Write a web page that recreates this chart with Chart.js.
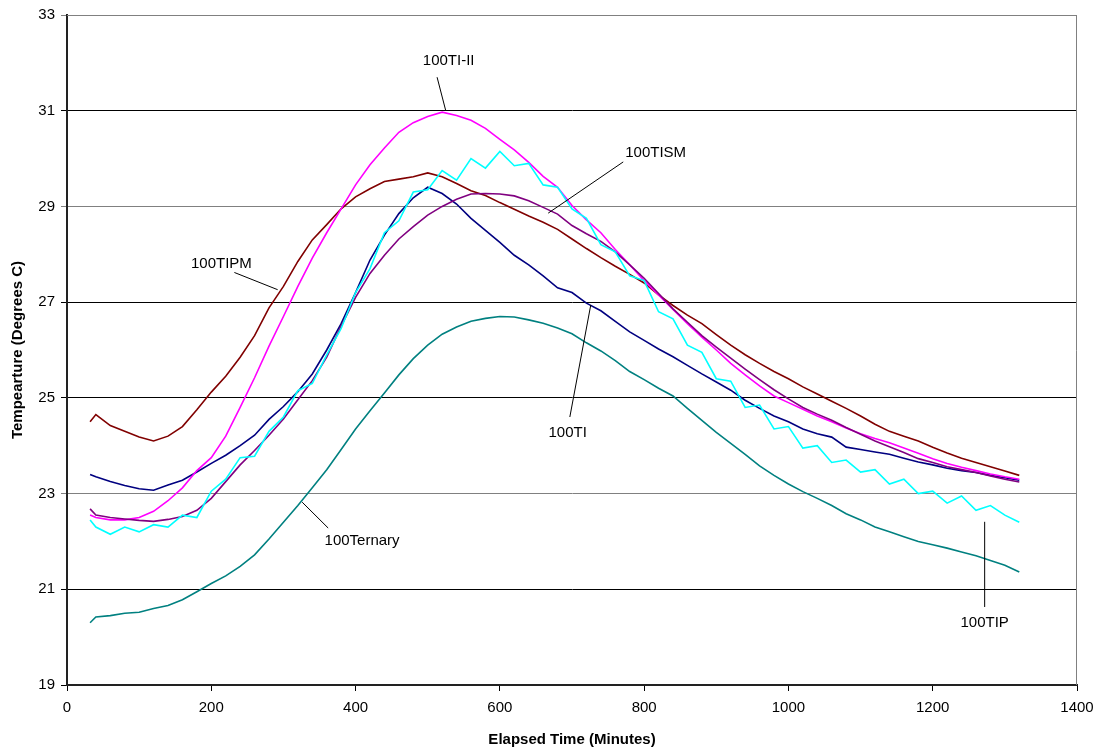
<!DOCTYPE html>
<html>
<head>
<meta charset="utf-8">
<script src="https://cdn.jsdelivr.net/npm/chart.js@4"></script>
<style>
  body { margin: 0; background: #fff; }
  #wrap { width: 1104px; height: 752px; position: relative; }
</style>
</head>
<body>
<div id="wrap"><canvas id="myChart"></canvas></div>
<script>
// elapsed time (minutes) for each reading
const minutes = [32, 40, 60, 80, 100, 120, 140, 160, 180, 200, 220, 240, 260, 280, 300, 320, 340, 360, 380, 400,
  420, 440, 460, 480, 500, 520, 540, 560, 580, 600, 620, 640, 660, 680, 700, 720, 740, 760, 780, 800,
  820, 840, 860, 880, 900, 920, 940, 960, 980, 1000, 1020, 1040, 1060, 1080, 1100, 1120, 1140, 1160, 1180, 1200,
  1220, 1240, 1260, 1280, 1300, 1320];

const tipm = [24.5, 24.65, 24.42, 24.3, 24.18, 24.1, 24.2, 24.4, 24.75, 25.12, 25.45, 25.85, 26.3, 26.88, 27.33, 27.85, 28.3, 28.62, 28.95, 29.2,
  29.37, 29.52, 29.57, 29.62, 29.7, 29.62, 29.48, 29.33, 29.23, 29.08, 28.94, 28.8, 28.67, 28.52, 28.32, 28.12, 27.93, 27.75, 27.58, 27.4,
  27.15, 26.93, 26.73, 26.55, 26.32, 26.1, 25.9, 25.72, 25.55, 25.4, 25.23, 25.08, 24.93, 24.78, 24.62, 24.45, 24.3, 24.2, 24.1, 23.97,
  23.85, 23.74, 23.65, 23.56, 23.47, 23.38];

const tiII = [22.55, 22.5, 22.45, 22.45, 22.5, 22.63, 22.85, 23.12, 23.48, 23.75, 24.2, 24.8, 25.42, 26.08, 26.7, 27.33, 27.92, 28.45, 28.95, 29.45,
  29.87, 30.22, 30.55, 30.75, 30.88, 30.97, 30.9, 30.8, 30.63, 30.4, 30.18, 29.92, 29.63, 29.4, 29.02, 28.72, 28.45, 28.1, 27.78, 27.45,
  27.15, 26.85, 26.55, 26.27, 26.0, 25.72, 25.48, 25.25, 25.04, 24.9, 24.76, 24.62, 24.5, 24.37, 24.25, 24.15, 24.06, 23.95, 23.84, 23.73,
  23.63, 23.55, 23.48, 23.41, 23.35, 23.3];

const tism = [22.68, 22.55, 22.5, 22.47, 22.44, 22.42, 22.46, 22.52, 22.65, 22.9, 23.25, 23.6, 23.9, 24.22, 24.56, 24.96, 25.36, 25.85, 26.5, 27.1,
  27.6, 27.98, 28.32, 28.58, 28.82, 29.0, 29.15, 29.26, 29.27, 29.26, 29.22, 29.12, 28.98, 28.84, 28.6, 28.43, 28.27, 28.05, 27.78, 27.5,
  27.18, 26.86, 26.58, 26.3, 26.06, 25.83, 25.6, 25.38, 25.17, 24.98, 24.8, 24.66, 24.53, 24.38, 24.24, 24.1, 23.98, 23.86, 23.73, 23.65,
  23.56, 23.5, 23.44, 23.37, 23.3, 23.24];

const ti = [23.4, 23.35, 23.25, 23.17, 23.1, 23.07, 23.18, 23.28, 23.45, 23.63, 23.8, 24.0, 24.22, 24.55, 24.82, 25.13, 25.5, 26.0, 26.55, 27.2,
  27.88, 28.4, 28.85, 29.18, 29.4, 29.27, 29.05, 28.75, 28.5, 28.25, 27.98, 27.78, 27.55, 27.3, 27.2, 26.98, 26.82, 26.6, 26.38, 26.2,
  26.02, 25.86, 25.68, 25.5, 25.33, 25.16, 24.95, 24.78, 24.62, 24.5, 24.35, 24.25, 24.18, 23.97, 23.92, 23.87, 23.82, 23.74, 23.66, 23.6,
  23.53, 23.48, 23.44, 23.38, 23.33, 23.28];

const tip = [22.45, 22.3, 22.15, 22.3, 22.2, 22.35, 22.3, 22.55, 22.5, 23.05, 23.3, 23.75, 23.78, 24.3, 24.6, 25.15, 25.3, 25.9, 26.45, 27.2,
  27.7, 28.45, 28.7, 29.3, 29.35, 29.75, 29.55, 30.0, 29.8, 30.15, 29.85, 29.9, 29.45, 29.4, 28.95, 28.75, 28.2, 28.05, 27.55, 27.45,
  26.8, 26.65, 26.1, 25.95, 25.4, 25.35, 24.8, 24.85, 24.35, 24.4, 23.95, 24.0, 23.65, 23.7, 23.45, 23.5, 23.2, 23.3, 23.0, 23.05,
  22.8, 22.95, 22.65, 22.75, 22.55, 22.4];

const ternary = [20.3, 20.42, 20.45, 20.5, 20.52, 20.6, 20.66, 20.78, 20.95, 21.12, 21.28, 21.48, 21.72, 22.05, 22.4, 22.75, 23.12, 23.5, 23.92, 24.35,
  24.73, 25.1, 25.48, 25.82, 26.1, 26.33, 26.48, 26.6, 26.66, 26.7, 26.69, 26.63, 26.56, 26.46, 26.34, 26.15, 25.98, 25.78, 25.55, 25.38,
  25.2, 25.04, 24.78, 24.53, 24.28, 24.05, 23.82, 23.58, 23.38, 23.2, 23.04, 22.9, 22.75, 22.58, 22.45, 22.3, 22.2, 22.1, 22.0, 21.93,
  21.86, 21.78, 21.7, 21.6, 21.5, 21.36];

const xTicks = [0, 200, 400, 600, 800, 1000, 1200, 1400];
const yTicks = [19, 21, 23, 25, 27, 29, 31, 33];

// callout labels: text, label centre, leader line from/to (data units)
const callouts = [
  { text: "100TI-II",   at: [529, 32.04],  from: [513, 31.7],  to: [525, 31.0] },
  { text: "100TISM",    at: [816, 30.12],  from: [771, 29.93], to: [667, 28.86] },
  { text: "100TIPM",    at: [214, 27.8],   from: [232, 27.62], to: [292, 27.26] },
  { text: "100TI",      at: [694, 24.27],  from: [697, 24.6],  to: [726, 26.94] },
  { text: "100Ternary", at: [409, 22.01],  from: [362, 22.28], to: [326, 22.82] },
  { text: "100TIP",     at: [1272, 20.3],  from: [1272, 20.63], to: [1272, 22.41] }
];

function pts(vals) {
  return minutes.map((m, i) => ({ x: m, y: vals[i] }));
}

const calloutPlugin = {
  id: 'callouts',
  beforeDatasetsDraw(chart) {
    const { ctx, chartArea: a } = chart;
    ctx.save();
    ctx.strokeStyle = '#808080';
    ctx.lineWidth = 1;
    ctx.beginPath();
    ctx.moveTo(a.left, a.top + 0.5);
    ctx.lineTo(a.right - 0.5, a.top + 0.5);
    ctx.lineTo(a.right - 0.5, a.bottom);
    ctx.stroke();
    ctx.restore();
  },
  afterDatasetsDraw(chart) {
    const { ctx } = chart;
    const xs = chart.scales.x, ys = chart.scales.y;
    ctx.save();
    ctx.strokeStyle = '#000';
    ctx.lineWidth = 1;
    ctx.fillStyle = '#000';
    ctx.font = '15px "Liberation Sans", Arial, sans-serif';
    ctx.textAlign = 'center';
    ctx.textBaseline = 'middle';
    callouts.forEach(c => {
      ctx.beginPath();
      ctx.moveTo(xs.getPixelForValue(c.from[0]), ys.getPixelForValue(c.from[1]));
      ctx.lineTo(xs.getPixelForValue(c.to[0]), ys.getPixelForValue(c.to[1]));
      ctx.stroke();
      ctx.fillText(c.text, xs.getPixelForValue(c.at[0]), ys.getPixelForValue(c.at[1]));
    });
    ctx.restore();
  }
};

const tickFont = { family: '"Liberation Sans", Arial, sans-serif', size: 15 };
const titleFont = { family: '"Liberation Sans", Arial, sans-serif', size: 15, weight: 'bold' };

new Chart(document.getElementById('myChart'), {
  type: 'line',
  data: {
    datasets: [
      { label: '100Ternary', data: pts(ternary), borderColor: '#008080' },
      { label: '100TIP', data: pts(tip), borderColor: '#00FFFF' },
      { label: '100TISM', data: pts(tism), borderColor: '#800080' },
      { label: '100TI-II', data: pts(tiII), borderColor: '#FF00FF' },
      { label: '100TIPM', data: pts(tipm), borderColor: '#800000' },
      { label: '100TI', data: pts(ti), borderColor: '#000080' }
    ]
  },
  options: {
    responsive: true,
    maintainAspectRatio: false,
    animation: false,
    layout: { padding: { top: 15, right: 27, left: 0, bottom: 0 } },
    elements: {
      point: { radius: 0 },
      line: { borderWidth: 1.6, tension: 0 }
    },
    plugins: {
      legend: { display: false },
      tooltip: { enabled: false }
    },
    scales: {
      x: {
        type: 'linear',
        min: 0,
        max: 1400,
        afterBuildTicks: s => { s.ticks = xTicks.map(v => ({ value: v })); },
        afterFit: s => { s.height = 67; },
        grid: { drawOnChartArea: false, drawTicks: true, tickLength: 6, color: '#000' },
        border: { color: '#222', width: 2 },
        ticks: { font: tickFont, color: '#000', padding: 8, maxRotation: 0, callback: v => String(v) },
        title: { display: true, text: 'Elapsed Time (Minutes)', font: titleFont, color: '#000', padding: { top: 0, bottom: 3 } }
      },
      y: {
        min: 19,
        max: 33,
        afterBuildTicks: s => { s.ticks = yTicks.map(v => ({ value: v })); },
        afterFit: s => { s.width = 67; },
        grid: {
          drawTicks: true,
          tickLength: 6,
          color: c => (c.tick && (c.tick.value === 29 || c.tick.value === 23 || c.tick.value === 33)) ? '#808080' : '#000'
        },
        border: { color: '#222', width: 2 },
        ticks: { font: tickFont, color: '#000', padding: 6, callback: v => String(v) },
        title: { display: true, text: 'Tempearture (Degrees C)', font: titleFont, color: '#000', padding: { top: 9, bottom: 0 } }
      }
    }
  },
  plugins: [calloutPlugin]
});
</script>
</body>
</html>
